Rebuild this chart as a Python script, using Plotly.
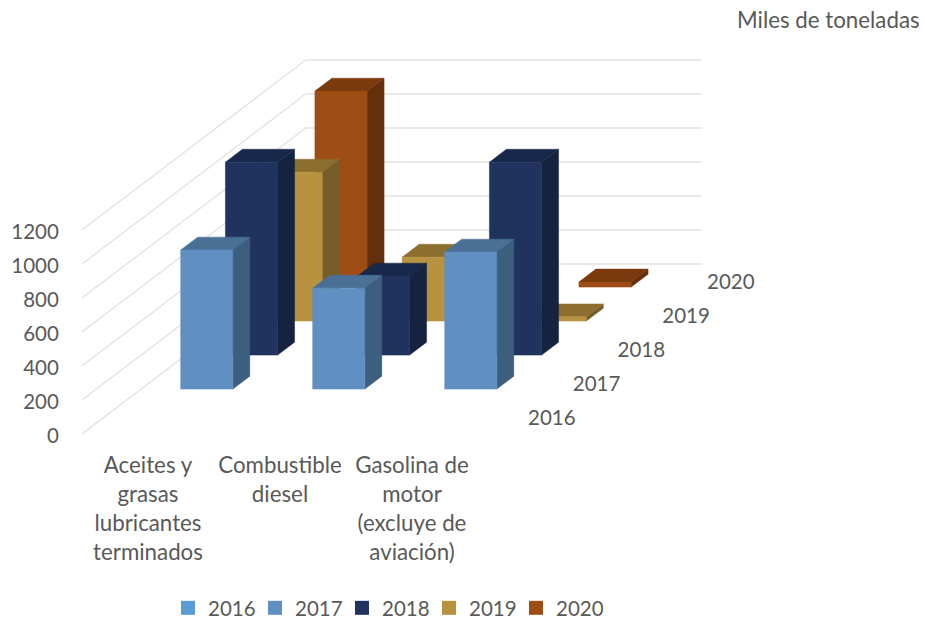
import plotly.graph_objects as go

categories = ["Aceites y<br>grasas<br>lubricantes<br>terminados", "Combustible<br>diesel", "Gasolina de<br>motor<br>(excluye de<br>aviación)"]
years = ["2016", "2017", "2018", "2019", "2020"]
v2016 = [None, None, None]
v2017 = [818, 594, 806]
v2018 = [1135, 465, 1135]
v2019 = [876, 376, 25]
v2020 = [1153, None, 30]
series = [v2016, v2017, v2018, v2019, v2020]
y_ticks = [0, 200, 400, 600, 800, 1000, 1200]
unit_label = "Miles de toneladas"

front = ["#5B9BD5", "#6090C1", "#1F335E", "#B8923E", "#9E4D15"]
top = ["#4A7BA8", "#4A7096", "#18284A", "#8C6F2F", "#7A3A0E"]
side = ["#3E6A94", "#3D5F7F", "#152240", "#755E29", "#662F0C"]
TXT = "#595959"
FONT = "Lato"
FS = 20.5
FS_CAT = 22.3

DX = 0.339   # category units per series of depth
DY = 200.0   # value units per series of depth
BAR_L, BAR_W = 0.30, 0.395
D_START, D_LEN = 0.32, 0.38
N_CAT, N_SER = len(categories), len(years)

# plot area spans x 82..925, y 8..434 on the page
PLOT_W, PLOT_H = 843, 426

fig = go.Figure()

# walls' gridlines
gx, gy = [], []
for t in y_ticks:
    gx += [0, N_SER * DX, N_CAT + N_SER * DX, None]
    gy += [t, t + N_SER * DY, t + N_SER * DY, None]
fig.add_trace(go.Scatter(x=gx, y=gy, mode="lines", line=dict(color="#E4E4E4", width=1.4),
                         showlegend=False, hoverinfo="skip"))


def face(pts, color):
    xs = [p[0] for p in pts] + [pts[0][0]]
    ys = [p[1] for p in pts] + [pts[0][1]]
    fig.add_trace(go.Scatter(x=xs, y=ys, mode="lines", fill="toself", fillcolor=color,
                             line=dict(color=color, width=0.5), showlegend=False, hoverinfo="skip"))


def proj(cx, d, v):
    return (cx + d * DX, v + d * DY)


for s in range(N_SER - 1, -1, -1):
    for c in range(N_CAT):
        v = series[s][c]
        if v is None:
            continue
        x0, x1 = c + BAR_L, c + BAR_L + BAR_W
        d0, d1 = s + D_START, s + D_START + D_LEN
        face([proj(x1, d0, 0), proj(x1, d1, 0), proj(x1, d1, v), proj(x1, d0, v)], side[s])
        face([proj(x0, d0, v), proj(x1, d0, v), proj(x1, d1, v), proj(x0, d1, v)], top[s])
        face([proj(x0, d0, 0), proj(x1, d0, 0), proj(x1, d0, v), proj(x0, d0, v)], front[s])

# depth axis labels
fig.add_trace(go.Scatter(
    x=[N_CAT + 0.39 + (i + 0.5) * DX for i in range(N_SER)],
    y=[(i + 0.5) * DY - 15 for i in range(N_SER)],
    text=years, mode="text", textposition="middle center",
    textfont=dict(family=FONT, size=FS, color=TXT), showlegend=False, hoverinfo="skip"))

# unit label
fig.add_trace(go.Scatter(
    x=[(737 - 82) / 132], y=[(434 - 22) / 0.17], text=[unit_label], mode="text", textposition="middle right",
    textfont=dict(family=FONT, size=FS_CAT, color=TXT), showlegend=False, hoverinfo="skip", cliponaxis=False))

# legend
for i, yr in enumerate(years):
    fig.add_trace(go.Scatter(x=[None], y=[None], mode="markers", name=yr,
                             marker=dict(symbol="square", size=14, color=front[i])))

fig.update_layout(
    width=925, height=640, autosize=False,
    margin=dict(l=82, r=0, t=8, b=206),
    paper_bgcolor="white", plot_bgcolor="white",
    font=dict(family=FONT, size=FS, color=TXT),
    xaxis=dict(range=[0, PLOT_W / 132], tickmode="array", tickvals=[0.5, 1.5, 2.5], ticktext=categories,
               showgrid=False, zeroline=False, showline=False, ticks="outside", ticklen=11,
               tickcolor="rgba(0,0,0,0)", tickangle=0, fixedrange=True,
               tickfont=dict(family=FONT, size=FS_CAT, color=TXT)),
    yaxis=dict(range=[0, PLOT_H / 0.17], tickmode="array", tickvals=y_ticks, showgrid=False, zeroline=False,
               showline=False, ticks="outside", ticklen=18, tickcolor="rgba(0,0,0,0)", fixedrange=True,
               ticklabelshift=2),
    legend=dict(orientation="h", x=(168 - 82) / PLOT_W, xanchor="left", y=-(588 - 434) / PLOT_H, yanchor="top",
                entrywidth=42, entrywidthmode="pixels", itemclick=False, itemdoubleclick=False,
                font=dict(family=FONT, size=FS, color=TXT), bgcolor="rgba(0,0,0,0)"),
)

fig.write_html("out.html", config={"displayModeBar": False}, default_width="925px", default_height="640px",
               post_script="document.documentElement.style.overflow='hidden';document.body.style.margin='0';")
